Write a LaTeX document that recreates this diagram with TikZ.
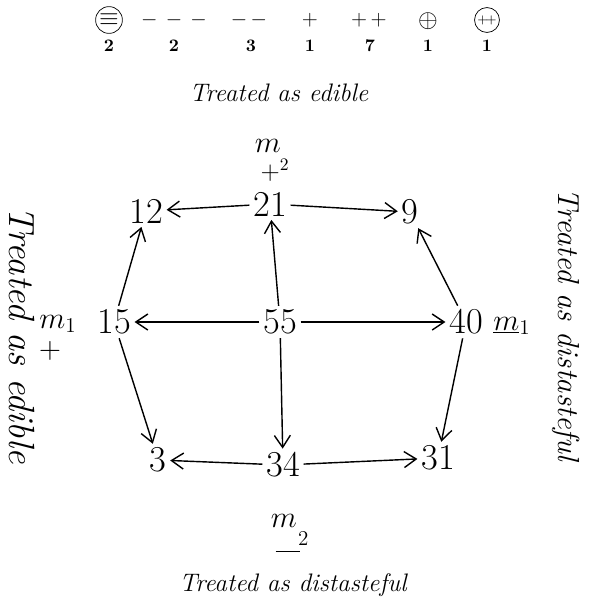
\documentclass[tikz,border=0pt]{standalone}
\usetikzlibrary{arrows.meta}

\begin{document}
\begin{tikzpicture}[
    x=0.2mm, y=-0.2mm,
    count/.style={inner sep=2pt, font=\huge},
    gene/.style={inner sep=1pt, font=\LARGE},
    note/.style={font=\Large\itshape},
    sym/.style={inner sep=0.8pt, font=\Large},
    tally/.style={font=\normalsize\bfseries},
    flow/.style={-{Straight Barb[length=2.4mm, width=3.2mm]}, thick}
]
\useasboundingbox (0,0) rectangle (589,611);

% top row of symbols
\node[sym, draw, circle] (s1) at (109,20) {$\equiv$};
\node[sym, font=\large] (s2) at (174,20) {$-\,-\,-$};
\node[sym, font=\large] (s3) at (249,20) {$-\,-$};
\node[sym, font=\large] (s4) at (310,20) {$+$};
\node[sym, font=\large] (s5) at (369,20) {$+\,+$};
\node[sym, inner sep=0pt] (s6) at (428,21) {$\oplus$};
\node[sym, draw, circle, font=\scriptsize] (s7) at (487,20) {$+\!+$};

\node[tally] (n1) at (109,46) {2};
\node[tally] (n2) at (174,46) {2};
\node[tally] (n3) at (251,46) {3};
\node[tally] (n4) at (310,46) {1};
\node[tally] (n5) at (370,46) {7};
\node[tally] (n6) at (428,46) {1};
\node[tally] (n7) at (487,46) {1};

% counts
\node[count] (c55) at (280,322) {55};
\node[count] (c21) at (270,204) {21};
\node[count] (c12) at (146,211) {12};
\node[count] (c9) at (410,212) {9};
\node[count] (c15) at (114,322) {15};
\node[count] (c40) at (466,322) {40};
\node[count] (c3) at (158,460) {3};
\node[count] (c34) at (283,465) {34};
\node[count] (c31) at (438,458) {31};

% genotype labels
\node[gene] (mtop) at (268,146) {$m$};
\node[gene, font=\Large] (ptop) at (275,170) {$+^{2}$};
\node[gene] (mleft) at (58,324) {$m_{1}$};
\node[gene] (pleft) at (50,351) {$+$};
\node[gene] (mright) at (512,326) {$\underline{m}_{1}$};
\node[gene] (mbot) at (284,521) {$m$};
\node[gene] (dbot) at (292,542) {$\underline{\hspace{0.8em}}\hspace{-1pt}\raisebox{2pt}{$\scriptstyle 2$}$};

% treatment notes
\node[note] (ttop) at (279,93) {Treated as edible};
\node[note] (tbot) at (293,585) {Treated as distasteful};
\node[note, font=\huge\itshape, rotate=-90] (tleft) at (22,335) {Treated as edible};
\node[note, font=\LARGE\itshape, rotate=-90] (tright) at (566,325) {Treated as distasteful};

\draw[flow] (c55) -- (c21);
\draw[flow] (c55) -- (c15);
\draw[flow] (c55) -- (c40);
\draw[flow] (c55) -- (c34);

\draw[flow] (c21) -- (c12);
\draw[flow] (c21) -- (c9);
\draw[flow] (c15) -- (c12);
\draw[flow] (c15) -- (c3);
\draw[flow] (c40) -- (c9);
\draw[flow] (c40) -- (c31);
\draw[flow] (c34) -- (c3);
\draw[flow] (c34) -- (c31);
\end{tikzpicture}
\end{document}
